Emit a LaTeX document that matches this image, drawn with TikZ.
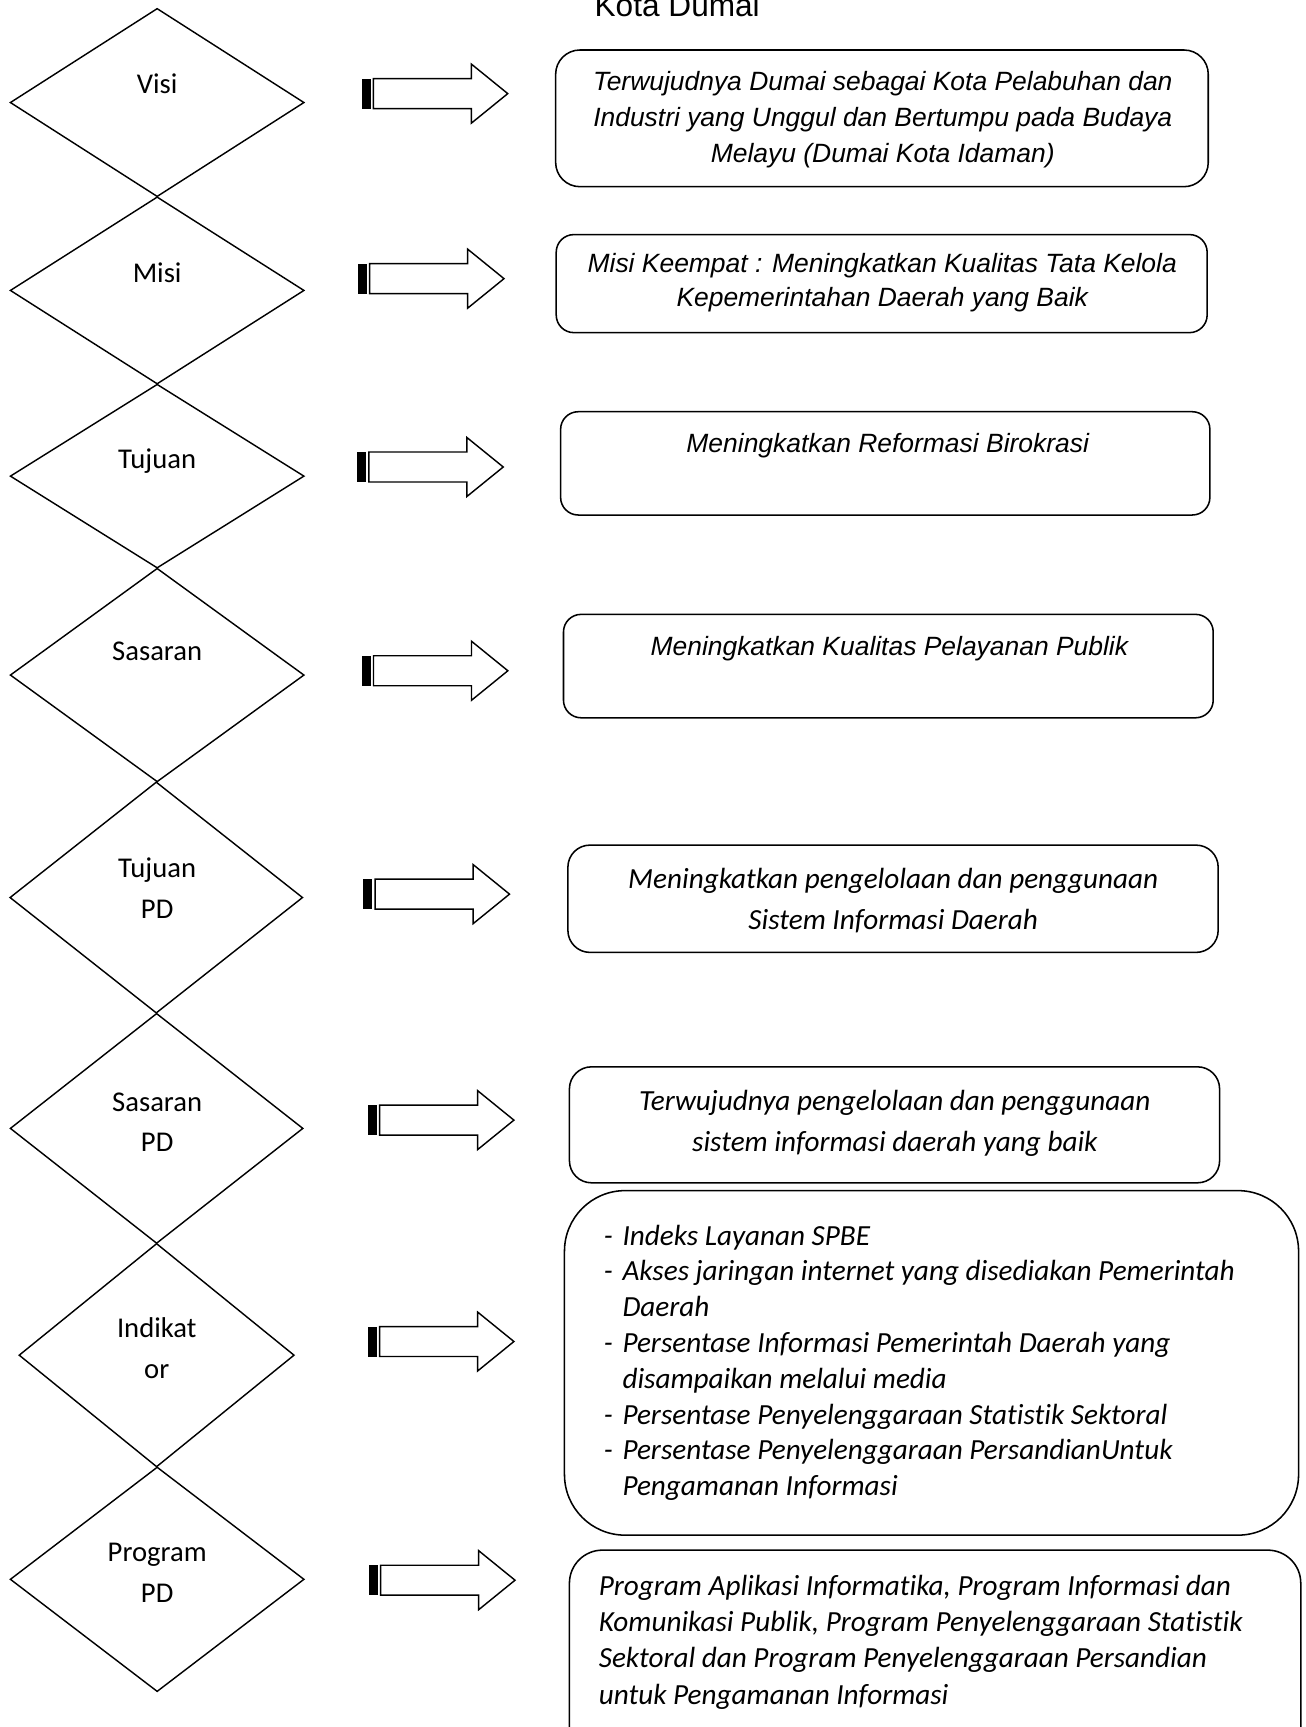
\documentclass[tikz,border=0pt]{standalone}
\usepackage{fontspec}
\newfontfamily\arialfont{Liberation Sans}
\newfontfamily\calibrifont[Ligatures=NoCommon]{Carlito}
\usetikzlibrary{shapes.geometric}

\tikzset{
  dia/.style={draw, diamond, line width=1.3pt, inner sep=0pt, minimum width=267pt},
  dialabel/.style={font=\calibrifont\fontsize{26}{37}\selectfont, align=center, anchor=base},
  goalbox/.style={draw, rectangle, rounded corners=16pt, line width=1.4pt, inner sep=0pt},
  ariatext/.style={font=\arialfont\itshape\fontsize{24}{32.5}\selectfont, align=center, anchor=base},
  calitext/.style={font=\calibrifont\itshape\fontsize{26.5}{37.5}\selectfont, align=center, anchor=base},
  tailarrow/.pic={
    \fill (-10.6,-13.6) rectangle (-2.4,13.6);
    \draw[line width=1.3pt] (0,-13.6) -- (89,-13.6) -- (89,-26.8) -- (122,0)
      -- (89,26.8) -- (89,13.6) -- (0,13.6) -- cycle;
  }
}

\begin{document}
\begin{tikzpicture}[x=1pt, y=-1pt]
    \useasboundingbox (0,0) rectangle (1185,1568);
    \clip (0,0) rectangle (1185,1568);

    % Title (cut at the top)
    \node[font=\arialfont\fontsize{28.7}{30}\selectfont, anchor=base west, inner sep=0pt] (title) at (539.7,15.1) {Kota Dumai};

    % Left column of diamonds
    \node[dia, minimum height=171pt] (visi) at (142.7,93.1) {};
    \node[dia, minimum height=170pt] (misi) at (142.7,263.7) {};
    \node[dia, minimum height=167pt] (tujuan) at (142.7,432.3) {};
    \node[dia, minimum height=194pt] (sasaran) at (142.7,612.9) {};
    \node[dia, minimum height=210pt, minimum width=266pt] (tujuanpd) at (141.9,814.9) {};
    \node[dia, minimum height=209pt, minimum width=266pt] (sasaranpd) at (142.2,1024.5) {};
    \node[dia, minimum height=203pt, minimum width=250pt] (indikator) at (142.2,1230.4) {};
    \node[dia, minimum height=204pt] (program) at (142.7,1433.9) {};

    % labels (base = last line)
    \node[dialabel] (visilbl) at (142.7,84.7) {Visi};
    \node[dialabel] (misilbl) at (142.7,256.7) {Misi};
    \node[dialabel] (tujuanlbl) at (142.7,425.6) {Tujuan};
    \node[dialabel] (sasaranlbl) at (142.7,599.3) {Sasaran};
    \node[dialabel] (tujuanpdlbl) at (142.7,833.9) {Tujuan\\PD};
    \node[dialabel] (sasaranpdlbl) at (142.7,1045.8) {Sasaran\\PD};
    \node[dialabel] (indikatorlbl) at (142.3,1251.6) {Indikat\\or};
    \node[dialabel] (programlbl) at (142.7,1455) {Program\\PD};

    % Block arrows
    \pic at (339,85) {tailarrow};
    \pic at (335.6,253) {tailarrow};
    \pic at (334.9,424) {tailarrow};
    \pic at (339.1,609) {tailarrow};
    \pic at (340.6,811.8) {tailarrow};
    \pic at (344.6,1017) {tailarrow};
    \pic at (344.6,1218) {tailarrow};
    \pic at (345.6,1434.7) {tailarrow};

    % Right column of boxes
    \node[goalbox, rounded corners=22pt, minimum width=592.5pt, minimum height=124.1pt] (visibox) at (800.75,107.45) {};
    \node[goalbox, minimum width=591pt, minimum height=89pt] (misibox) at (800.5,257.5) {};
    \node[goalbox, minimum width=589.5pt, minimum height=93.8pt] (tujuanbox) at (803.75,420.7) {};
    \node[goalbox, minimum width=589.9pt, minimum height=93.9pt] (sasaranbox) at (806.55,604.75) {};
    \node[goalbox, rounded corners=20pt, minimum width=590.4pt, minimum height=97.4pt] (tujuanpdbox) at (810.8,816) {};
    \node[goalbox, rounded corners=20pt, minimum width=590.3pt, minimum height=105.3pt] (sasaranpdbox) at (812.15,1021.25) {};
    \node[goalbox, rounded corners=55pt, minimum width=666.5pt, minimum height=312.8pt] (indikatorbox) at (845.75,1237.4) {};
    \node[goalbox, rounded corners=30pt, minimum width=664pt, minimum height=192.6pt] (programbox) at (849,1503.7) {};

    % Box texts (base = last line)
    \node[ariatext] (visitxt) at (801.5,147.5) {Terwujudnya Dumai sebagai Kota Pelabuhan dan\\Industri yang Unggul dan Bertumpu pada Budaya\\Melayu (Dumai Kota Idaman)};
    \node[ariatext, font=\arialfont\itshape\fontsize{24}{31}\selectfont] (misitxt) at (801,278.5) {Misi Keempat : Meningkatkan Kualitas Tata Kelola\\Kepemerintahan Daerah yang Baik};
    \node[ariatext] (tujuantxt) at (806,410.7) {Meningkatkan Reformasi Birokrasi};
    \node[ariatext] (sasarantxt) at (807.5,594.8) {Meningkatkan Kualitas Pelayanan Publik};
    \node[calitext] (tujuanpdtxt) at (811,844.3) {Meningkatkan pengelolaan dan penggunaan\\Sistem Informasi Daerah};
    \node[calitext] (sasaranpdtxt) at (812.5,1045.6) {Terwujudnya pengelolaan dan penggunaan\\sistem informasi daerah yang baik};
    \node[calitext, font=\calibrifont\itshape\fontsize{26.5}{32.5}\selectfont, anchor=base west, inner sep=0pt] (indikatortxt) at (548,1130.5) {%
      \begin{tabular}[t]{@{}p{17pt}@{}l@{}}
        - & Indeks Layanan SPBE\\
        - & Akses jaringan internet yang disediakan Pemerintah\\
          & Daerah\\
        - & Persentase Informasi Pemerintah Daerah yang\\
          & disampaikan melalui media\\
        - & Persentase Penyelenggaraan Statistik Sektoral\\
        - & Persentase Penyelenggaraan PersandianUntuk\\
          & Pengamanan Informasi
      \end{tabular}};
    \node[calitext, font=\calibrifont\itshape\fontsize{26.5}{33}\selectfont, align=left, anchor=base west, inner sep=0pt] (programtxt) at (543.5,1547.3) {Program Aplikasi Informatika, Program Informasi dan\\Komunikasi Publik, Program Penyelenggaraan Statistik\\Sektoral dan Program Penyelenggaraan Persandian\\untuk Pengamanan Informasi};
\end{tikzpicture}
\end{document}
